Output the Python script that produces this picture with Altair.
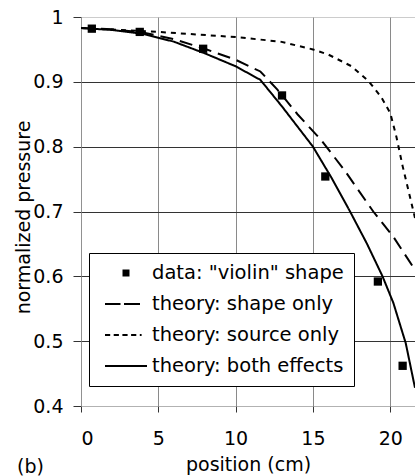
import altair as alt
import pandas as pd

FONT = "DejaVu Sans"

series_names = ['data: "violin" shape', "theory: shape only",
                "theory: source only", "theory: both effects"]

# measured data ("violin" shape)
data_x = [0.7, 3.8, 7.9, 13.0, 15.8, 19.2, 20.8]
data_y = [0.982, 0.977, 0.951, 0.879, 0.754, 0.592, 0.462]

# theory: shape only
shape_x = [0, 2, 4, 6, 8, 10, 11.6, 12.7, 14, 15.5, 17, 18.9, 20.2, 21.6]
shape_y = [0.983, 0.981, 0.976, 0.966, 0.951, 0.934, 0.916, 0.888, 0.850,
           0.811, 0.765, 0.700, 0.661, 0.610]

# theory: source only
source_x = [0, 5, 10, 12.9, 15, 16, 17, 17.5, 18.6, 19.4, 20.0, 20.4, 20.8, 21.2, 21.6]
source_y = [0.983, 0.977, 0.969, 0.962, 0.950, 0.942, 0.930, 0.924, 0.901,
            0.877, 0.852, 0.815, 0.770, 0.730, 0.690]

# theory: both effects
both_x = [0, 2, 4, 6, 8, 10, 11.6, 13, 15, 16.2, 17.4, 18.5, 19.5, 20.2, 21.0, 21.6]
both_y = [0.983, 0.980, 0.974, 0.962, 0.944, 0.924, 0.903, 0.862, 0.800,
          0.752, 0.700, 0.650, 0.600, 0.559, 0.497, 0.428]

x_ticks = [0, 5, 10, 15, 20]
y_ticks = [0.4, 0.5, 0.6, 0.7, 0.8, 0.9, 1.0]

pts = pd.DataFrame({"x": data_x, "y": data_y, "series": series_names[0]})
rows = []
for name, xs, ys in [(series_names[1], shape_x, shape_y),
                     (series_names[2], source_x, source_y),
                     (series_names[3], both_x, both_y)]:
    for i, (a, b) in enumerate(zip(xs, ys)):
        rows.append({"x": a, "y": b, "series": name, "order": i})
lines_df = pd.DataFrame(rows)


def seg(a, b, h=0.1):
    return f"M{a},{-h}L{b},{-h}L{b},{h}L{a},{h}Z"


# legend glyphs (filled paths, unit = half of sqrt(symbolSize))
SQ = "M-0.35,-0.35L0.35,-0.35L0.35,0.35L-0.35,0.35Z"
DASH2 = seg(-2.1, -0.55) + seg(-0.2, 1.4)
DASH4 = seg(-2.1, -1.58) + seg(-1.23, -0.71) + seg(-0.36, 0.16) + seg(0.51, 1.03) + seg(1.38, 1.56)
SOLID = seg(-2.1, 2.1)

leg = dict(title=None, orient="none", legendX=8, legendY=236,
           fillColor="white", strokeColor="black", padding=10,
           symbolSize=400, symbolOffset=17, labelOffset=16, rowPadding=11,
           labelFontSize=19.5, labelFont=FONT, labelColor="black", labelLimit=400,
           symbolStrokeWidth=0, symbolFillColor="black", symbolStrokeColor="black")

xenc = alt.X("x:Q", scale=alt.Scale(domain=[0, 21.6], nice=False, zero=False),
             axis=alt.Axis(values=x_ticks, title="position (cm)", format="d",
                           gridColor="#8a8a8a", tickSize=6, labelPadding=17,
                           titlePadding=7))
yenc = alt.Y("y:Q", scale=alt.Scale(domain=[0.4, 1.0], nice=False, zero=False),
             axis=alt.Axis(values=y_ticks, title="normalized pressure", format=".1~f",
                           gridColor={"condition": {"test": "datum.value >= 0.99 || datum.value <= 0.41",
                                                    "value": "#999"}, "value": "#333"},
                           gridDash={"condition": {"test": "datum.value >= 0.99 || datum.value <= 0.41",
                                                   "value": [1, 1]}, "value": []},
                           tickSize=8, labelPadding=10, titleX=-48, titleY=200))

lines = alt.Chart(lines_df).mark_line(color="black", strokeWidth=2, clip=True).encode(
    x=xenc, y=yenc, order="order:Q",
    strokeDash=alt.StrokeDash("series:N",
                              scale=alt.Scale(domain=series_names,
                                              range=[[1, 0], [13, 7], [5, 5], [1, 0]]),
                              legend=alt.Legend(**leg)),
)

points = alt.Chart(pts).mark_point(filled=True, color="black", opacity=1, size=560,
                                   clip=True).encode(
    x=xenc, y=yenc,
    shape=alt.Shape("series:N",
                    scale=alt.Scale(domain=series_names, range=[SQ, DASH2, DASH4, SOLID]),
                    legend=alt.Legend(**leg)),
)

chart = alt.layer(lines, points).properties(
    width=334, height=389,
    autosize=alt.AutoSizeParams(type="none"),
    padding={"left": 81, "top": 17, "right": 0, "bottom": 70},
    title=alt.TitleParams("(b)", orient="bottom", anchor="start", frame="group",
                          dx=-64, dy=-20, fontSize=19, font=FONT, fontWeight="normal",
                          color="black"),
).configure_axis(
    labelFont=FONT, labelFontSize=19, labelColor="black",
    titleFont=FONT, titleFontSize=19, titleFontWeight="normal", titleColor="black",
    domainColor="#999", domainDash=[1, 1], tickColor="#333", gridWidth=1,
).configure_view(stroke=None)

chart.save("out.html", embed_options={"renderer": "svg", "actions": False})
